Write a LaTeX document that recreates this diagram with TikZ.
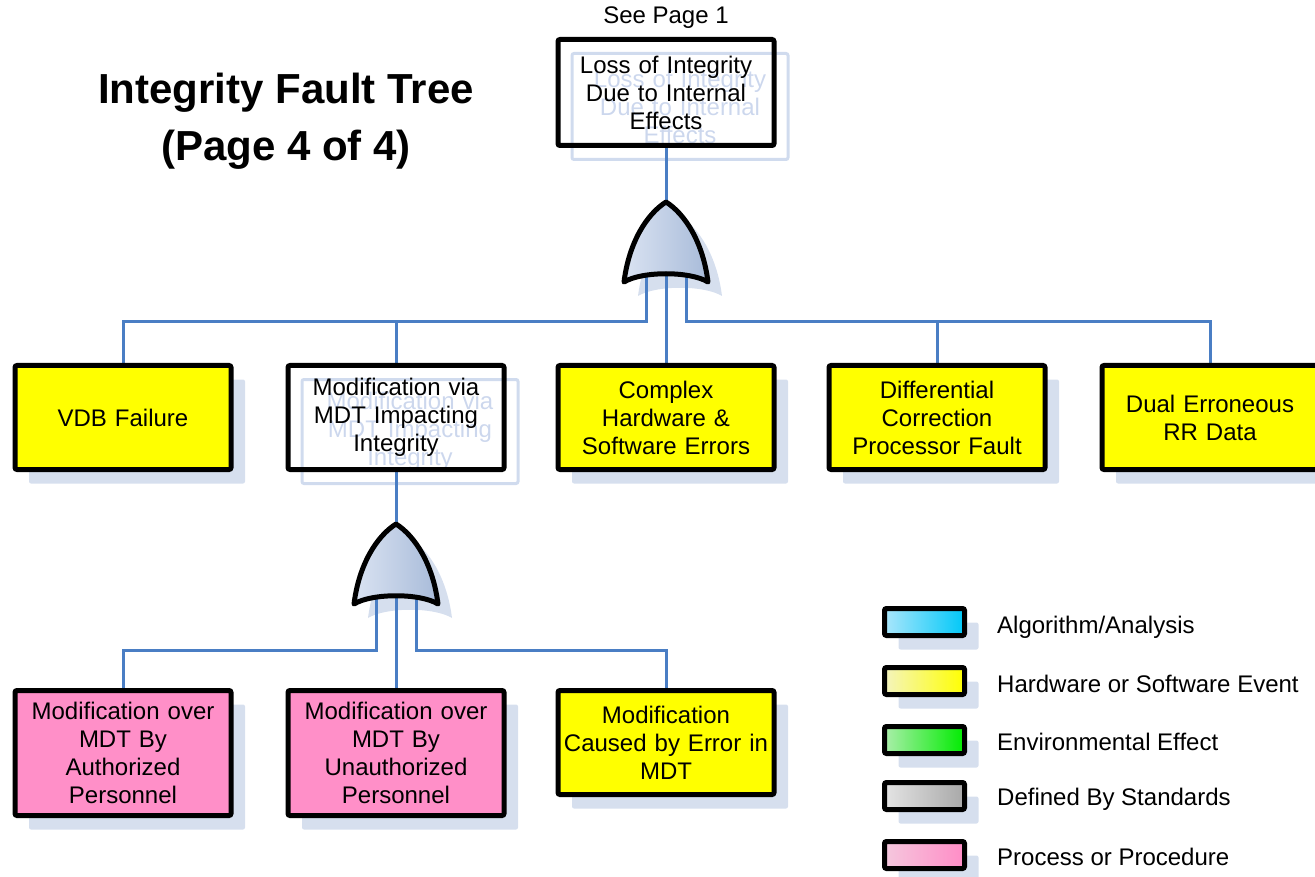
\documentclass[tikz,border=0pt]{standalone}
\usepackage{fontspec}
\setmainfont{Liberation Sans}
\usetikzlibrary{shadows,calc}

\definecolor{wire}{RGB}{74,126,196}
\definecolor{shadowc}{RGB}{214,223,238}
\definecolor{ghostline}{RGB}{208,219,238}
\definecolor{ghosttext}{RGB}{204,215,237}
\definecolor{evyellow}{RGB}{255,255,0}
\definecolor{procpink}{RGB}{255,143,200}
\definecolor{gatelight}{RGB}{218,227,242}
\definecolor{gatedark}{RGB}{168,187,217}

\pgfdeclarelayer{shadowlayer}
\pgfdeclarelayer{wirelayer}
\pgfsetlayers{shadowlayer,wirelayer,main}

\tikzset{
  boxshadow/.style={general shadow={shadow xshift=14pt, shadow yshift=-14pt, fill=shadowc}},
  event/.style={draw=black, line width=5pt, rounded corners=2pt,
    minimum width=216pt, minimum height=104pt, text width=206pt,
    align=center, inner sep=0pt, font=\fontsize{24}{28}\selectfont},
  hwsw/.style={event, fill=evyellow, boxshadow},
  proc/.style={event, fill=procpink, boxshadow, minimum height=125pt},
  plain/.style={event, fill=none},
  ghost/.style={event, draw=ghostline, line width=3pt, text=ghosttext, fill=none},
  wireline/.style={draw=wire, line width=3pt},
  legbox/.style={draw=black, line width=5pt, rounded corners=2pt,
    minimum width=80pt, minimum height=27pt, inner sep=0pt, boxshadow},
  leglabel/.style={anchor=west, inner sep=0pt, font=\fontsize{24}{28}\selectfont},
  orgate/.pic={
    \begin{pgfonlayer}{shadowlayer}
      \fill[shadowc, shift={(14,14)}] (-42,80) .. controls (-37,40) and (-19,12) .. (0,0)
        .. controls (19,12) and (37,40) .. (42,80)
        .. controls (24,69) and (-24,69) .. cycle;
    \end{pgfonlayer}
    \draw[line width=5pt, line join=round, shading=axis, shading angle=-45,
          left color=gatelight, right color=gatedark]
      (-42,80) .. controls (-37,40) and (-19,12) .. (0,0)
      .. controls (19,12) and (37,40) .. (42,80)
      .. controls (24,69) and (-24,69) .. cycle;
    \coordinate (-top) at (0,0);
    \coordinate (-in1) at (-20,73);
    \coordinate (-in2) at (0,73);
    \coordinate (-in3) at (20,73);
  }
}

\begin{document}
\begin{tikzpicture}[x=1pt, y=-1pt]
  \useasboundingbox (0,0) rectangle (1315,877);

  % title
  \node[align=center, font=\bfseries\fontsize{42}{57}\selectfont] (title) at (286,121)
    {Integrity Fault Tree\\(Page 4 of 4)};

  % top event with its transfer note
  \node[font=\fontsize{24}{28}\selectfont] (seepage) at (666,18) {See Page 1};
  \begin{pgfonlayer}{shadowlayer}
    \node[ghost, minimum height=106pt] (topghost) at (680,106.5)
      {Loss of Integrity\\Due to Internal\\Effects};
  \end{pgfonlayer}
  \node[plain, minimum height=106pt] (top) at (666,92.5)
    {Loss of Integrity\\Due to Internal\\Effects};

  % first OR gate
  \pic (g1) at (666,202) {orgate};

  % second level events
  \node[hwsw] (vdb) at (123,417.5) {VDB Failure};
  \begin{pgfonlayer}{shadowlayer}
    \node[ghost] (modghost) at (410,431.5) {Modification via\\MDT Impacting\\Integrity};
  \end{pgfonlayer}
  \node[plain] (mod) at (396,417.5) {Modification via\\MDT Impacting\\Integrity};
  \node[hwsw] (cmp) at (666,417.5) {Complex\\Hardware \&\\Software Errors};
  \node[hwsw] (dif) at (937,417.5) {Differential\\Correction\\Processor Fault};
  \node[hwsw] (dual) at (1210,417.5) {Dual Erroneous\\RR Data};

  % second OR gate
  \pic (g2) at (396,524) {orgate};

  % third level events
  \node[proc] (auth) at (123,753) {Modification over\\MDT By\\Authorized\\Personnel};
  \node[proc] (unauth) at (396,753) {Modification over\\MDT By\\Unauthorized\\Personnel};
  \node[hwsw] (err) at (666,742.5) {Modification\\Caused by Error in\\MDT};

  % connectors
  \coordinate (bus1) at (0,322);
  \coordinate (bus2) at (0,650);
  \begin{pgfonlayer}{wirelayer}
    \draw[wireline] (top.south) -- (g1-top);
    \draw[wireline] (g1-in1) -- (g1-in1 |- bus1) -| (vdb.north);
    \draw[wireline] (g1-in1) -- (g1-in1 |- bus1) -| (mod.north);
    \draw[wireline] (g1-in2) -- (cmp.north);
    \draw[wireline] (g1-in3) -- (g1-in3 |- bus1) -| (dif.north);
    \draw[wireline] (g1-in3) -- (g1-in3 |- bus1) -| (dual.north);
    \draw[wireline] (mod.south) -- (g2-top);
    \draw[wireline] (g2-in1) -- (g2-in1 |- bus2) -| (auth.north);
    \draw[wireline] (g2-in2) -- (unauth.north);
    \draw[wireline] (g2-in3) -- (g2-in3 |- bus2) -| (err.north);
  \end{pgfonlayer}

  % legend
  \node[legbox, left color={rgb,255:red,170;green,230;blue,251}, right color={rgb,255:red,0;green,200;blue,248}] (legA) at (924.5,622) {};
  \node[leglabel] (legAt) at (997,627) {Algorithm/Analysis};
  \node[legbox, left color={rgb,255:red,244;green,244;blue,190}, right color={rgb,255:red,255;green,255;blue,0}] (legB) at (924.5,681) {};
  \node[leglabel] (legBt) at (997,684) {Hardware or Software Event};
  \node[legbox, left color={rgb,255:red,170;green,238;blue,170}, right color={rgb,255:red,0;green,236;blue,0}] (legC) at (924.5,740) {};
  \node[leglabel] (legCt) at (997,742) {Environmental Effect};
  \node[legbox, left color={rgb,255:red,228;green,228;blue,228}, right color={rgb,255:red,168;green,168;blue,168}] (legD) at (924.5,796) {};
  \node[leglabel] (legDt) at (997,799) {Defined By Standards};
  \node[legbox, left color={rgb,255:red,245;green,200;blue,222}, right color={rgb,255:red,255;green,140;blue,198}] (legE) at (924.5,855) {};
  \node[leglabel] (legEt) at (997,857) {Process or Procedure};
\end{tikzpicture}
\end{document}
